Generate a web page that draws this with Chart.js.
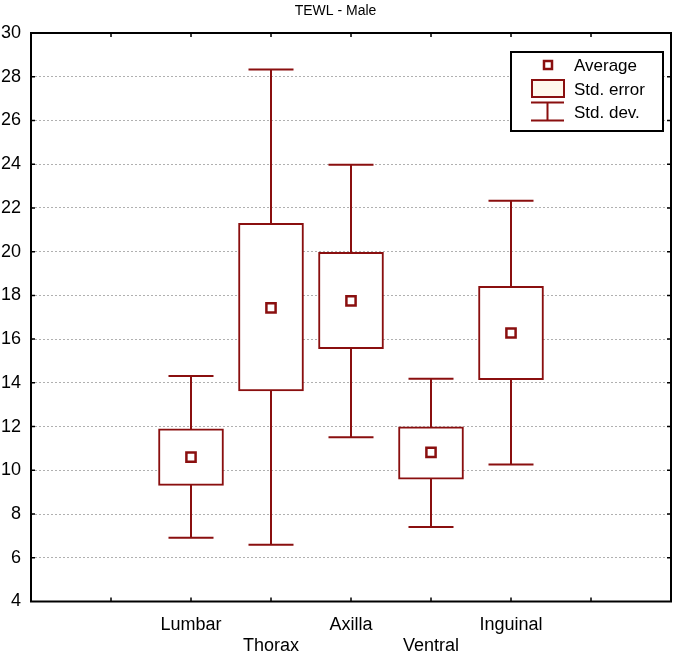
<!DOCTYPE html>
<html>
<head>
<meta charset="utf-8">
<script src="https://cdn.jsdelivr.net/npm/chart.js@4"></script>
<style>
  html, body { margin: 0; padding: 0; background: #ffffff; }
  canvas { display: block; }
</style>
</head>
<body>
<canvas id="c" width="676" height="655"></canvas>
<script>
// ---- Data ----
const categories = ['Lumbar', 'Thorax', 'Axilla', 'Ventral', 'Inguinal'];
const positions  = [2, 3, 4, 5, 6];
const means  = [10.6, 17.43, 17.75, 10.82, 16.28];
const seLow  = [9.31, 13.63, 15.56, 9.59, 14.15];
const seHigh = [11.9, 21.29, 19.97, 11.99, 18.41];
const sdLow  = [6.92, 6.6, 11.51, 7.41, 10.26];
const sdHigh = [14.31, 28.33, 23.97, 14.19, 22.33];
const yTicks = [4, 6, 8, 10, 12, 14, 16, 18, 20, 22, 24, 26, 28, 30];
const legendLabels = ['Average', 'Std. error', 'Std. dev.'];
const titleText = 'TEWL - Male';

const RED = '#8a0f0f';
const FONT = "'Liberation Sans', Arial, sans-serif";

const boxPlugin = {
  id: 'boxWhiskers',
  beforeDatasetsDraw(chart) {
    const { ctx, scales: { x, y } } = chart;
    ctx.save();
    ctx.strokeStyle = RED;
    ctx.lineWidth = 2;
    positions.forEach((p, i) => {
      const px = Math.round(x.getPixelForValue(p));
      const top = y.getPixelForValue(sdHigh[i]);
      const bot = y.getPixelForValue(sdLow[i]);
      ctx.beginPath();
      ctx.moveTo(px, top); ctx.lineTo(px, bot);
      ctx.moveTo(px - 22.5, top); ctx.lineTo(px + 22.5, top);
      ctx.moveTo(px - 22.5, bot); ctx.lineTo(px + 22.5, bot);
      ctx.stroke();
    });
    ctx.restore();
  },
  afterDraw(chart) {
    const { ctx, chartArea: a, scales: { x, y } } = chart;
    ctx.save();
    // frame
    ctx.strokeStyle = '#000';
    ctx.lineWidth = 2;
    ctx.strokeRect(a.left, a.top, a.right - a.left, a.bottom - a.top);
    // inward ticks
    ctx.lineWidth = 1.5;
    ctx.beginPath();
    yTicks.forEach(v => {
      if (v === 4 || v === 30) return;
      const py = y.getPixelForValue(v);
      ctx.moveTo(a.left, py); ctx.lineTo(a.left + 4, py);
      ctx.moveTo(a.right, py); ctx.lineTo(a.right - 4, py);
    });
    for (let v = 1; v <= 7; v++) {
      const px = x.getPixelForValue(v);
      ctx.moveTo(px, a.bottom); ctx.lineTo(px, a.bottom - 4);
      ctx.moveTo(px, a.top); ctx.lineTo(px, a.top + 4);
    }
    ctx.stroke();

    // legend
    const lx = 511, ly = 52, lw = 152, lh = 79;
    ctx.fillStyle = '#fff';
    ctx.fillRect(lx, ly, lw, lh);
    ctx.strokeStyle = '#000';
    ctx.lineWidth = 2;
    ctx.strokeRect(lx, ly, lw, lh);
    // Average marker
    ctx.strokeStyle = RED;
    ctx.lineWidth = 2.5;
    ctx.fillStyle = '#fff';
    ctx.fillRect(544, 61, 8, 8);
    ctx.strokeRect(544, 61, 8, 8);
    // Std error
    ctx.lineWidth = 2;
    ctx.fillStyle = '#fff8ec';
    ctx.fillRect(532, 80, 32, 17);
    ctx.strokeRect(532, 80, 32, 17);
    // Std dev
    ctx.beginPath();
    ctx.moveTo(531, 102.5); ctx.lineTo(564, 102.5);
    ctx.moveTo(547.5, 102.5); ctx.lineTo(547.5, 120.5);
    ctx.moveTo(531, 120.5); ctx.lineTo(564, 120.5);
    ctx.stroke();
    // texts
    ctx.fillStyle = '#000';
    ctx.font = '17px ' + FONT;
    ctx.textAlign = 'left';
    ctx.textBaseline = 'middle';
    ctx.fillText(legendLabels[0], 574, 66);
    ctx.fillText(legendLabels[1], 574, 90);
    ctx.fillText(legendLabels[2], 574, 113);
    ctx.restore();
  }
};

new Chart(document.getElementById('c'), {
  type: 'bar',
  data: {
    datasets: [
      {
        type: 'scatter',
        order: 0,
        data: positions.map((p, i) => ({ x: p, y: means[i] })),
        pointStyle: 'rect',
        pointRadius: 6.5,
        pointBorderWidth: 2.5,
        pointBorderColor: RED,
        pointBackgroundColor: '#ffffff',
        showLine: false
      },
      {
        type: 'bar',
        order: 1,
        data: positions.map((p, i) => ({ x: p, y: [seLow[i], seHigh[i]] })),
        backgroundColor: '#ffffff',
        borderColor: RED,
        borderWidth: 2,
        borderSkipped: false,
        barThickness: 65
      }
    ]
  },
  options: {
    responsive: false,
    animation: false,
    layout: { autoPadding: false, padding: { top: 0, right: 5, bottom: 0, left: 0 } },
    plugins: {
      legend: { display: false },
      tooltip: { enabled: false },
      title: {
        display: true,
        text: titleText,
        color: '#000',
        font: { family: FONT, size: 14, weight: 'normal' },
        padding: { top: 3, bottom: 13.2 }
      }
    },
    scales: {
      x: {
        type: 'linear',
        min: 0,
        max: 8,
        offset: false,
        grid: { display: false, drawTicks: true, tickLength: 13, tickColor: 'rgba(0,0,0,0)' },
        border: { display: false },
        afterFit(scale) {
          scale.height = 53.5;
          scale.paddingLeft = 0;
          scale.paddingRight = 0;
        },
        ticks: {
          stepSize: 1,
          autoSkip: false,
          maxRotation: 0,
          padding: 0,
          color: '#000',
          font: { family: FONT, size: 18, lineHeight: 1.17 },
          callback(v) {
            const i = positions.indexOf(v);
            if (i < 0) return '';
            return i % 2 === 0 ? [categories[i], ''] : ['', categories[i]];
          }
        }
      },
      y: {
        min: 4,
        max: 30,
        afterFit(scale) { scale.width = 31; },
        afterBuildTicks(scale) { scale.ticks = yTicks.map(v => ({ value: v })); },
        grid: {
          drawTicks: false,
          lineWidth: 1,
          color: (c) => (c.tick && (c.tick.value === 4 || c.tick.value === 30)) ? 'rgba(0,0,0,0)' : '#b0b0b0'
        },
        border: { display: false, dash: [2, 2] },
        ticks: {
          padding: 10,
          color: '#000',
          font: { family: FONT, size: 18 }
        }
      }
    }
  },
  plugins: [boxPlugin]
});
</script>
</body>
</html>
